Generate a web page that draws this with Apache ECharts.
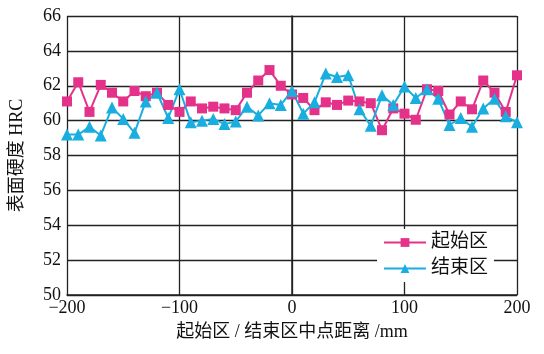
<!DOCTYPE html>
<html><head><meta charset="utf-8">
<script src="https://cdn.jsdelivr.net/npm/echarts@6/dist/echarts.min.js"></script>
<style>html,body{margin:0;padding:0;background:#fff}#c{width:544px;height:354px}</style>
</head><body><div id="c"></div>
<script>
const positions = [-200,-190,-180,-170,-160,-150,-140,-130,-120,-110,-100,-90,-80,-70,-60,-50,-40,-30,-20,-10,0,10,20,30,40,50,60,70,80,90,100,110,120,130,140,150,160,170,180,190,200];
const startZone = [61.1,62.2,60.5,62.05,61.6,61.1,61.7,61.4,61.6,60.9,60.5,61.1,60.7,60.8,60.7,60.6,61.6,62.3,62.9,62.0,61.5,61.3,60.6,61.05,60.9,61.15,61.1,61.0,59.45,60.7,60.4,60.05,61.8,61.7,60.35,61.1,60.65,62.3,61.6,60.5,62.6];
const endZone = [59.2,59.2,59.65,59.15,60.75,60.1,59.3,61.1,61.6,60.15,61.8,59.9,60.0,60.1,59.8,59.95,60.8,60.3,61.0,60.9,61.7,60.4,61.05,62.7,62.5,62.6,60.65,59.7,61.45,60.9,61.95,61.3,61.8,61.25,59.75,60.15,59.65,60.7,61.25,60.25,59.9];
const seriesNames = ['起始区','结束区'];
const colors = ['#E4318A','#1AAEE0'];

const chart = echarts.init(document.getElementById('c'), null, {renderer:'canvas'});
const numFont = '"Liberation Serif","Times New Roman",serif';
const cjkFont = '"Liberation Serif","Noto Sans CJK SC",serif';
const lineCol = '#222';
chart.setOption({
  animation:false,
  backgroundColor:'#fff',
  grid:{left:66,right:27,top:16,bottom:59,containLabel:false},
  legend:{
    orient:'vertical', right:50, bottom:72,
    backgroundColor:'#fff', padding:[4,6,4,6],
    itemWidth:42, itemHeight:11, itemGap:7,
    textStyle:{fontFamily:cjkFont,fontSize:19,color:'#111'},
    data:seriesNames
  },
  xAxis:{
    type:'value', min:-200, max:200, interval:100,
    name:'起始区 / 结束区中点距离 /mm', nameLocation:'middle', nameGap:28,
    nameTextStyle:{fontFamily:cjkFont,fontSize:18,color:'#111'},
    axisLine:{show:true,lineStyle:{color:lineCol,width:1.5}},
    axisTick:{show:false},
    splitLine:{show:true,lineStyle:{color:lineCol,width:1.3}},
    axisLabel:{fontFamily:numFont,fontSize:18,color:'#111',margin:4,
      formatter:v=>String(v).replace('-','\u2212')}
  },
  yAxis:{
    type:'value', min:50, max:66, interval:2,
    name:'表面硬度 HRC', nameLocation:'middle', nameGap:41, nameRotate:90,
    nameTextStyle:{fontFamily:cjkFont,fontSize:18,color:'#111'},
    axisLine:{show:true,lineStyle:{color:lineCol,width:1.5}},
    axisTick:{show:false},
    splitLine:{show:true,lineStyle:{color:lineCol,width:1.3}},
    axisLabel:{fontFamily:numFont,fontSize:18,color:'#111',margin:6}
  },
  series:[
    {name:seriesNames[0],type:'line',data:positions.map((x,i)=>[x,startZone[i]]),
     symbol:'rect',symbolSize:10,color:colors[0],
     lineStyle:{width:2,color:colors[0]},itemStyle:{color:colors[0]}},
    {name:seriesNames[1],type:'line',data:positions.map((x,i)=>[x,endZone[i]]),
     symbol:'triangle',symbolSize:12,color:colors[1],
     lineStyle:{width:2,color:colors[1]},itemStyle:{color:colors[1]}}
  ]
});
</script></body></html>
